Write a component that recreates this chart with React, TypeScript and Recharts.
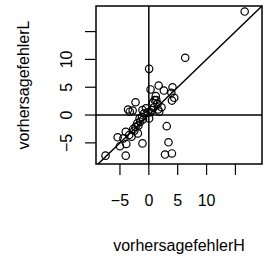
import { ScatterChart, Scatter, XAxis, YAxis, ReferenceLine, ReferenceArea } from "recharts";

// prediction errors
const errorsH = [
  -7.5, -4.0, -5.4, -5.0, -3.9, -4.0, -3.0, -1.1, -2.3, -1.9, -2.7, -1.5, -1.2, -3.6, -3.3, -2.3,
  -1.1, -1.6, -0.5, -0.2, 0.05, 0.3, 0.05, 1.0, 1.2, 1.7, 0.9, 2.2, 1.8, 2.6, 4.1, 3.9, 4.4, 4.0,
  6.3, 3.1, 3.4, 2.8, 4.0, 16.6, -3.4, -2.0, 0.5, 1.5, -0.8, -2.8, -4.4, 1.3,
  -2.5, -1.8, -1.0, 0.3, 0.7, 1.6,
];
const errorsL = [
  -7.3, -7.3, -4.0, -5.6, -5.2, -3.0, -3.9, -5.1, -2.1, -3.3, -2.5, -1.2, -0.3, 1.0, 0.6, 2.3,
  0.9, -0.6, 1.2, 0.5, 8.3, 4.6, -0.6, 2.7, 3.4, 5.3, 1.4, 1.4, 0.6, 4.4, 5.0, 4.0, 3.1, 2.6,
  10.3, -2.0, -4.9, -7.1, -6.9, 18.6, -3.6, -1.5, 0.9, 2.0, 0.3, 0.8, -4.2, 2.7,
  -2.8, -1.9, -0.8, 0.5, 2.2, 1.0,
];
const axisTicks = [-5, 0, 5, 10, 15];
const labelledTicks = [-5, 0, 5, 10];

const xDomain: [number, number] = [-9.15, 19.6];
const yDomain: [number, number] = [-8.8, 19.6];

const points = errorsH.map((h, i) => ({ x: h, y: errorsL[i] }));

const font = "'Liberation Sans', Arial, sans-serif";
const fmt = (v: number) => (v < 0 ? `\u2212${Math.abs(v)}` : `${v}`);

const XTick = ({ x, y, payload }: any) => {
  if (!labelledTicks.includes(payload.value)) return null;
  return (
    <text x={x} y={y + 25} textAnchor="middle" dominantBaseline="central" fontSize={16} fontFamily={font} fill="#000">
      {fmt(payload.value)}
    </text>
  );
};

const YTick = ({ x, y, payload }: any) => {
  if (!labelledTicks.includes(payload.value)) return null;
  const cx = x - 18;
  return (
    <text
      x={cx}
      y={y}
      transform={`rotate(-90, ${cx}, ${y})`}
      textAnchor="middle"
      dominantBaseline="central"
      fontSize={16}
      fontFamily={font}
      fill="#000"
    >
      {fmt(payload.value)}
    </text>
  );
};

const Ring = ({ cx, cy }: any) => (
  <circle cx={cx} cy={cy} r={3.7} fill="none" stroke="#000" strokeWidth={1.2} />
);

export default function App() {
  return (
    <div style={{ position: "absolute", left: 0, top: 0, background: "#fff" }}>
      <ScatterChart width={270} height={256} margin={{ top: 6, right: 8, bottom: 0, left: 0 }}>
        <XAxis
          type="number"
          dataKey="x"
          domain={xDomain}
          ticks={axisTicks}
          allowDataOverflow
          height={92}
          axisLine={false}
          tickSize={11}
          tickMargin={0}
          tickLine={{ stroke: "#000", strokeWidth: 1.2 }}
          tick={<XTick />}
          label={{
            content: ({ viewBox }: any) => (
              <text x={viewBox.x + viewBox.width / 2} y={245} textAnchor="middle" dominantBaseline="central" fontSize={16} fontFamily={font} fill="#000">
                vorhersagefehlerH
              </text>
            ),
          }}
        />
        <YAxis
          type="number"
          dataKey="y"
          domain={yDomain}
          ticks={axisTicks}
          allowDataOverflow
          width={96}
          axisLine={false}
          tickSize={11}
          tickMargin={0}
          tickLine={{ stroke: "#000", strokeWidth: 1.2 }}
          tick={<YTick />}
          label={{
            content: ({ viewBox }: any) => {
              const cy = viewBox.y + viewBox.height / 2;
              return (
                <text x={23} y={cy} transform={`rotate(-90, 23, ${cy})`} textAnchor="middle" dominantBaseline="central" fontSize={16} fontFamily={font} fill="#000">
                  vorhersagefehlerL
                </text>
              );
            },
          }}
        />
        <ReferenceLine x={0} stroke="#000" strokeWidth={1.5} />
        <ReferenceLine y={0} stroke="#000" strokeWidth={1.5} />
        <ReferenceLine
          segment={[
            { x: -8.8, y: -8.8 },
            { x: 19.6, y: 19.6 },
          ]}
          stroke="#000"
          strokeWidth={1.5}
        />
        <Scatter data={points} shape={<Ring />} isAnimationActive={false} />
        <ReferenceArea x1={xDomain[0]} x2={xDomain[1]} y1={yDomain[0]} y2={yDomain[1]} fill="none" stroke="#000" strokeWidth={1.5} />
      </ScatterChart>
    </div>
  );
}
